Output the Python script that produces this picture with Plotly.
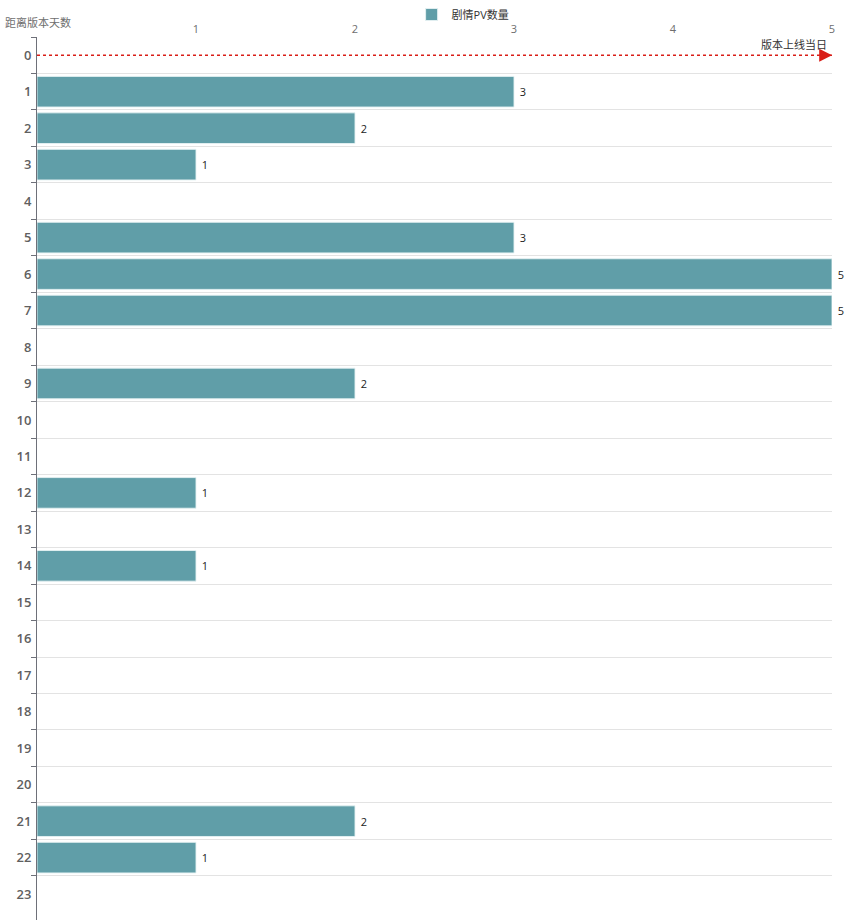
import plotly.graph_objects as go

days = [str(i) for i in range(24)]
pv_counts = [None, 3, 2, 1, None, 3, 5, 5, None, 2, None, None, 1, None, 1,
             None, None, None, None, None, None, 2, 1, None]
x_ticks = [1, 2, 3, 4, 5]
marker_day = "0"
marker_label = "版本上线当日"
series_name = "剧情PV数量"
y_title = "距离版本天数"

FONT = "Open Sans, Noto Sans CJK SC, sans-serif"
W, H = 865, 920
ML, MR, MT, MB = 37, 33, 36, 0
PH = H - MT - MB

fig = go.Figure()
fig.add_trace(go.Bar(
    y=days, x=pv_counts, orientation="h", name=series_name,
    marker=dict(color="#609EA8", line=dict(color="rgba(230,242,243,0.9)", width=1)),
    text=[("" if v is None else " " + str(v)) for v in pv_counts],
    textposition="outside", cliponaxis=False,
    textfont=dict(size=11, color="#222222", family=FONT),
    hoverinfo="x+y",
))

# mark line for release day
fig.add_trace(go.Scatter(
    x=[0, x_ticks[-1]], y=[marker_day, marker_day], mode="lines",
    line=dict(color="#D91E18", width=1.6, dash="dot"),
    showlegend=False, hoverinfo="skip", cliponaxis=False,
))
fig.add_annotation(
    x=x_ticks[-1], y=marker_day, ax=x_ticks[-1] - 0.08, ay=marker_day,
    xref="x", yref="y", axref="x", ayref="y",
    showarrow=True, arrowhead=2, arrowsize=1.6, arrowwidth=1.6,
    arrowcolor="#D91E18", text="",
)
fig.add_annotation(
    x=x_ticks[-1], y=marker_day, xref="x", yref="y",
    text=marker_label, showarrow=False, xanchor="right", yanchor="bottom",
    xshift=-3, yshift=1, font=dict(size=11, color="#333333", family=FONT),
)
fig.add_annotation(
    x=-ML / (W - ML - MR), y=1, xref="paper", yref="paper",
    text=y_title, showarrow=False, xanchor="left", yanchor="bottom",
    xshift=3, yshift=5, font=dict(size=11, color="#6E6E6E", family=FONT),
)

fig.update_layout(
    width=W, height=H,
    margin=dict(l=ML, r=MR, t=MT, b=MB),
    paper_bgcolor="white", plot_bgcolor="white",
    font=dict(family=FONT),
    bargap=0.16,
    showlegend=True,
    legend=dict(orientation="h", x=0.536, xanchor="center",
                y=1 + (MT - 13) / PH, yanchor="middle",
                font=dict(size=11, color="#333333", family=FONT),
                bgcolor="rgba(0,0,0,0)", itemwidth=30),
    xaxis=dict(side="top", range=[0, x_ticks[-1]], tickvals=x_ticks,
               showgrid=False, zeroline=False, showline=False, ticks="",
               tickfont=dict(size=11, color="#6E6E6E", family=FONT), ticklabelstandoff=1),
    yaxis=dict(type="category", categoryorder="array", categoryarray=days,
               range=[23.71, -0.5], tickson="boundaries",
               showgrid=True, gridcolor="#E3E3E3", gridwidth=1,
               showline=True, linecolor="#6E7079", linewidth=1,
               ticks="outside", ticklen=5, tickcolor="#6E7079",
               tickfont=dict(size=13, color="#606060", family="Open Sans SemiBold, Open Sans, sans-serif", weight=600),
               ticklabelstandoff=2, zeroline=False),
)

fig.write_html("out.html")
